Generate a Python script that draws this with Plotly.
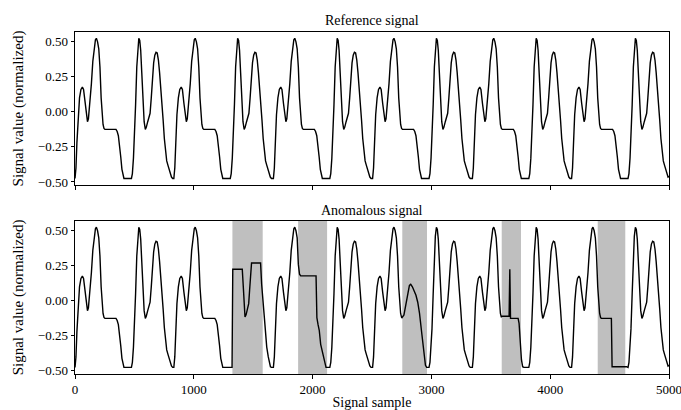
import numpy as np
import plotly.graph_objects as go
from plotly.subplots import make_subplots

# ---- data ----
# one period of the reference signal: phase (samples from period start) and value
TEMPLATE_PHASE = [0, 8, 16, 26, 38, 50, 62, 72, 85, 97,
                  105, 113, 125, 138, 150, 162, 172, 180, 190, 200,
                  210, 220, 228, 236, 244, 252, 345, 355, 365, 375,
                  385, 395, 405, 412, 475, 483, 492, 500, 510, 520,
                  528, 537, 545, 553, 562, 572, 582, 592, 600, 612,
                  622, 632, 642, 652, 662, 672, 682, 692, 702, 712,
                  722, 732, 742, 752, 762, 772, 782, 792, 802, 812, 822]
TEMPLATE_VALUE = [-0.475, -0.40, -0.22, -0.02, 0.10, 0.16, 0.177, 0.16, 0.06, -0.04,
                  -0.07, -0.05, 0.05, 0.20, 0.36, 0.47, 0.515, 0.525, 0.50, 0.45,
                  0.32, 0.10, -0.02, -0.09, -0.118, -0.125, -0.125, -0.14, -0.17, -0.23,
                  -0.32, -0.41, -0.46, -0.475, -0.475, -0.44, -0.33, -0.20, 0.05, 0.32,
                  0.46, 0.525, 0.51, 0.44, 0.28, 0.06, -0.07, -0.125, -0.11, -0.07,
                  -0.04, -0.01, 0.10, 0.24, 0.35, 0.405, 0.425, 0.42, 0.37, 0.28,
                  0.18, 0.06, -0.06, -0.19, -0.29, -0.35, -0.38, -0.41, -0.44, -0.465, -0.475]
PERIOD_STARTS = [0, 832, 1670, 2505, 3345, 4180]
END_SAMPLE = 5000
END_VALUE = -0.46

# anomalous segments (replace the reference between first and last sample)
A1_X = [1300, 1322, 1328, 1408, 1418, 1425, 1431, 1440, 1452, 1462, 1470, 1480, 1486, 1562, 1571, 1594, 1614, 1627, 1645]
A1_Y = [-0.475, -0.475, 0.225, 0.225, 0.08, -0.05, -0.115, -0.10, -0.06, -0.02, 0.08, 0.25, 0.27, 0.27, 0.12, -0.12, -0.33, -0.40, -0.47]
A2_X = [1872, 1880, 1890, 1900, 2029, 2033, 2036, 2046, 2056, 2068, 2080, 2090, 2105, 2113]
A2_Y = [0.40, 0.26, 0.19, 0.178, 0.178, 0.0, -0.12, -0.17, -0.21, -0.31, -0.36, -0.39, -0.45, -0.475]
A3_X = [2752, 2769, 2785, 2800, 2815, 2826, 2840, 2855, 2870, 2885, 2900, 2920, 2938, 2950, 2960, 2980]
A3_Y = [-0.12, -0.10, -0.02, 0.06, 0.11, 0.118, 0.10, 0.07, 0.04, -0.01, -0.09, -0.24, -0.40, -0.46, -0.475, -0.475]
A4_X = [3590, 3654, 3660, 3666, 3730, 3738, 3748, 3758, 3768, 3778]
A4_Y = [-0.11, -0.11, 0.225, -0.125, -0.125, -0.16, -0.30, -0.42, -0.47, -0.475]
A5_X = [4430, 4515, 4521, 4642]
A5_Y = [-0.125, -0.125, -0.47, -0.47]

# shaded anomaly windows
SHADE_START = [1325, 1878, 2755, 3592, 4400]
SHADE_END = [1580, 2122, 2963, 3754, 4632]

X_TICKS = [0, 1000, 2000, 3000, 4000, 5000]
Y_TICKS = [-0.50, -0.25, 0.00, 0.25, 0.50]

# ---- build series ----
ref_x, ref_y = [], []
for s in PERIOD_STARTS:
    for p, v in zip(TEMPLATE_PHASE, TEMPLATE_VALUE):
        if s + p < END_SAMPLE:
            ref_x.append(s + p)
            ref_y.append(v)
ref_x.append(END_SAMPLE)
ref_y.append(END_VALUE)

anoms = [(A1_X, A1_Y), (A2_X, A2_Y), (A3_X, A3_Y), (A4_X, A4_Y), (A5_X, A5_Y)]
pts = [(x, y) for x, y in zip(ref_x, ref_y)
       if not any(ax[0] <= x <= ax[-1] for ax, _ in anoms)]
for ax, ay in anoms:
    pts.extend(zip(ax, ay))
pts.sort(key=lambda t: t[0])
an_x = [p[0] for p in pts]
an_y = [p[1] for p in pts]

FONT = "Liberation Serif"

fig = make_subplots(rows=2, cols=1, vertical_spacing=0.105)
fig.add_trace(go.Scatter(x=ref_x, y=ref_y, mode="lines",
                         line=dict(color="black", width=1.4), showlegend=False), row=1, col=1)
fig.add_trace(go.Scatter(x=an_x, y=an_y, mode="lines",
                         line=dict(color="black", width=1.4), showlegend=False), row=2, col=1)

for a, b in zip(SHADE_START, SHADE_END):
    fig.add_shape(type="rect", xref="x2", yref="y2 domain", x0=a, x1=b, y0=0, y1=1,
                  fillcolor="rgba(128,128,128,0.5)", line=dict(width=0), layer="below")

axis_common = dict(showline=True, mirror=True, linecolor="black", linewidth=1,
                   ticks="outside", ticklen=3.5, tickcolor="black", tickwidth=1,
                   showgrid=False, zeroline=False, automargin=False,
                   ticklabeloverflow="allow")
for r in (1, 2):
    fig.update_xaxes(range=[0, 5000], tickvals=X_TICKS, showticklabels=(r == 2),
                     row=r, col=1, **axis_common)
    fig.update_yaxes(range=[-0.522, 0.57], tickvals=Y_TICKS, tickformat=".2f",
                     title=dict(text="Signal value (normalized)", font=dict(size=15), standoff=10),
                     row=r, col=1, **axis_common)
fig.update_xaxes(title=dict(text="Signal sample", font=dict(size=14), standoff=1), row=2, col=1)

fig.add_annotation(text="Reference signal", xref="paper", yref="paper", x=0.5, y=1.035,
                   yanchor="middle", showarrow=False, font=dict(size=14))
fig.add_annotation(text="Anomalous signal", xref="paper", yref="paper", x=0.5, y=0.4795,
                   yanchor="middle", showarrow=False, font=dict(size=14))

fig.update_layout(width=681, height=410, margin=dict(l=75, r=12, t=32, b=36),
                  plot_bgcolor="white", paper_bgcolor="white",
                  font=dict(family=FONT, size=13, color="black"))

fig.write_html("out.html", config={"displayModeBar": False},
               post_script="document.body.style.margin='0';document.body.style.overflow='hidden';")
